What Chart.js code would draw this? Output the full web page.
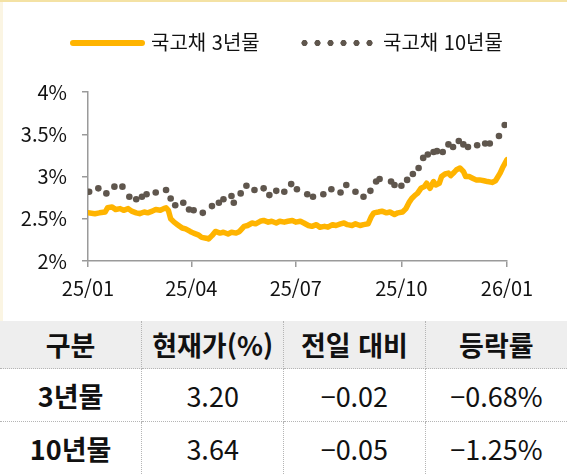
<!DOCTYPE html>
<html lang="ko">
<head>
<meta charset="utf-8">
<script src="https://cdn.jsdelivr.net/npm/chart.js@4.4.1/dist/chart.umd.min.js"></script>
<style>
  body { margin: 0; background: #fff; font-family: "Noto Sans CJK KR", "Noto Sans", sans-serif; }
  #wrap { width: 567px; height: 474px; position: relative; overflow: hidden; }
  #chartBox {
    position: relative; width: 567px; height: 321px;
    box-shadow: inset 0 2px 0 #f4e2a4, inset 3px 0 0 #fbf5e3;
  }
  #legend {
    position: absolute; top: 29px; left: 0; width: 567px; height: 26px;
    font-size: 20px; line-height: 26px; color: #111;
  }
  #legend .item { position: absolute; top: 0; white-space: nowrap; }
  #legend .bar {
    display: inline-block; width: 75px; height: 6px; border-radius: 3px;
    background: #ffb400; vertical-align: middle; margin-right: 6px; position: relative; top: -2px;
  }
  #legend .dots {
    display: inline-block; width: 78px; height: 8px; vertical-align: middle; margin-right: 7px;
    background: radial-gradient(circle, #5f564d 2.8px, transparent 3.4px) 0 0 / 13px 8px repeat-x;
    position: relative; top: -2px;
  }
  table {
    position: absolute; top: 321px; left: 0; width: 567px;
    border-collapse: collapse; table-layout: fixed; font-size: 27px; color: #111;
  }
  td, th { text-align: center; padding: 0; border: 1px dotted #b5b5b5; }
  tr td:first-child, tr th:first-child { border-left: none; }
  tr td:last-child, tr th:last-child { border-right: none; }
  th { background: #eeeeee; font-weight: 700; height: 47px; border-top: none; }
  td { height: 52px; font-weight: 400; }
  td.name { font-weight: 700; }
  tr:last-child td { border-bottom: none; }
</style>
</head>
<body>
<div id="wrap">
  <div id="chartBox">
    <canvas id="yieldChart"></canvas>
    <div id="legend">
      <span class="item" style="left:70px"><span class="bar"></span>국고채 3년물</span>
      <span class="item" style="left:298px"><span class="dots"></span>국고채 10년물</span>
    </div>
  </div>
  <table>
    <thead>
      <tr><th>구분</th><th>현재가(%)</th><th>전일 대비</th><th>등락률</th></tr>
    </thead>
    <tbody id="tableBody"></tbody>
  </table>
</div>
<script>
// days counted from 2025-01-01
const xTickDays = [0, 90, 181, 273, 365];
const xTickLabels = ['25/01', '25/04', '25/07', '25/10', '26/01'];
const yTicks = [2, 2.5, 3, 3.5, 4];

const days3y = [0, 6, 10, 15, 17, 21, 24, 28, 31, 35, 38, 42, 45, 49, 52, 56, 59, 63, 66, 68,
  70, 72, 75, 78, 82, 85, 89, 92, 96, 99, 103, 105, 108, 111, 115, 118, 122, 125, 129, 132,
  136, 139, 143, 146, 150, 153, 157, 160, 164, 167, 171, 174, 178, 181, 185, 188, 192, 195, 199, 202,
  206, 209, 213, 216, 220, 223, 226, 230, 233, 237, 240, 244, 247, 249, 253, 256, 260, 263, 267, 270,
  274, 277, 280, 282, 285, 287, 290, 293, 295, 298, 301, 303, 306, 308, 311, 314, 316, 319, 321, 324,
  327, 329, 332, 335, 338, 341, 345, 348, 352, 355, 359, 361, 363, 365];
const yield3y = [2.57, 2.56, 2.57, 2.58, 2.63, 2.64, 2.61, 2.62, 2.60, 2.62, 2.59, 2.57, 2.56, 2.58, 2.57, 2.59, 2.61, 2.60, 2.62, 2.63,
  2.60, 2.50, 2.46, 2.43, 2.39, 2.38, 2.35, 2.33, 2.31, 2.28, 2.27, 2.26, 2.30, 2.35, 2.33, 2.34, 2.32, 2.34, 2.33, 2.35,
  2.41, 2.42, 2.45, 2.44, 2.47, 2.48, 2.46, 2.47, 2.45, 2.47, 2.46, 2.47, 2.48, 2.46, 2.47, 2.45, 2.42, 2.41, 2.43, 2.40,
  2.41, 2.40, 2.43, 2.42, 2.44, 2.45, 2.43, 2.42, 2.44, 2.42, 2.43, 2.44, 2.53, 2.57, 2.58, 2.59, 2.57, 2.58, 2.55, 2.57,
  2.58, 2.62, 2.70, 2.74, 2.78, 2.80, 2.86, 2.88, 2.92, 2.86, 2.94, 2.90, 2.92, 3.00, 3.03, 3.04, 3.01, 3.05, 3.08, 3.10,
  3.06, 3.00, 3.00, 2.98, 2.96, 2.96, 2.95, 2.94, 2.93, 2.95, 3.04, 3.10, 3.15, 3.20];

const days10y = [1, 9, 16, 23, 30, 36, 42, 47, 51, 59, 68, 72, 76, 83, 88, 92, 100, 108, 114, 118,
  125, 127, 133, 138, 145, 153, 158, 164, 171, 177, 182, 191, 196, 205, 212, 220, 225, 233, 240, 246,
  251, 254, 264, 267, 273, 278, 283, 288, 292, 296, 301, 304, 309, 314, 318, 323, 327, 331, 339, 346,
  350, 358, 363];
const yield10y = [2.82, 2.86, 2.80, 2.88, 2.88, 2.76, 2.73, 2.76, 2.79, 2.81, 2.84, 2.74, 2.66, 2.69, 2.61, 2.60, 2.57, 2.65, 2.69, 2.73,
  2.77, 2.69, 2.80, 2.89, 2.84, 2.86, 2.78, 2.83, 2.82, 2.91, 2.85, 2.79, 2.76, 2.79, 2.85, 2.81, 2.90, 2.82, 2.76, 2.83,
  2.94, 2.97, 2.94, 2.90, 2.89, 2.96, 3.03, 3.10, 3.22, 3.26, 3.29, 3.30, 3.29, 3.38, 3.35, 3.42, 3.38, 3.35, 3.37, 3.39,
  3.39, 3.48, 3.61];

const tableNames = ['3년물', '10년물'];
const tablePrice = ['3.20', '3.64'];
const tableChange = ['\u22120.02', '\u22120.05'];
const tableRate = ['\u22120.68%', '\u22121.25%'];

const tbody = document.getElementById('tableBody');
tableNames.forEach((name, i) => {
  const tr = document.createElement('tr');
  tr.innerHTML = `<td class="name">${name}</td><td>${tablePrice[i]}</td><td>${tableChange[i]}</td><td>${tableRate[i]}</td>`;
  tbody.appendChild(tr);
});

const axisColor = '#9a9a9a';
const tickFont = { family: '"Noto Sans CJK KR", "Noto Sans", sans-serif', size: 20 };

new Chart(document.getElementById('yieldChart'), {
  type: 'line',
  data: {
    datasets: [
      {
        label: '국고채 10년물',
        data: days10y.map((d, i) => ({ x: d, y: yield10y[i] })),
        showLine: false,
        pointRadius: 3.3,
        pointBorderWidth: 0,
        pointBackgroundColor: '#5f564d'
      },
      {
        label: '국고채 3년물',
        data: days3y.map((d, i) => ({ x: d, y: yield3y[i] })),
        borderColor: '#ffb400',
        borderWidth: 5.5,
        borderJoinStyle: 'round',
        borderCapStyle: 'round',
        pointRadius: 0,
        tension: 0
      }
    ]
  },
  options: {
    responsive: true,
    maintainAspectRatio: false,
    animation: false,
    layout: { padding: { top: 92, right: 60, bottom: 0, left: 0 } },
    plugins: { legend: { display: false }, tooltip: { enabled: false } },
    scales: {
      x: {
        type: 'linear',
        min: xTickDays[0],
        max: xTickDays[xTickDays.length - 1],
        afterBuildTicks: axis => { axis.ticks = xTickDays.map(v => ({ value: v })); },
        afterFit: axis => { axis.height = 60; },
        ticks: {
          autoSkip: false, maxRotation: 0, padding: 9, color: '#111', font: tickFont,
          callback: v => xTickLabels[xTickDays.indexOf(v)]
        },
        grid: { drawOnChartArea: false, drawTicks: true, tickLength: 6, color: axisColor, lineWidth: 1.5 },
        border: { display: true, color: axisColor, width: 1.5 }
      },
      y: {
        min: yTicks[0],
        max: yTicks[yTicks.length - 1],
        afterBuildTicks: axis => { axis.ticks = yTicks.map(v => ({ value: v })); },
        afterFit: axis => { axis.width = 88; },
        ticks: { padding: 15, color: '#111', font: tickFont, callback: v => v + '%' },
        grid: { drawOnChartArea: false, drawTicks: true, tickLength: 6, color: axisColor, lineWidth: 1.5 },
        border: { display: true, color: axisColor, width: 1.5 }
      }
    }
  }
});
</script>
</body>
</html>
